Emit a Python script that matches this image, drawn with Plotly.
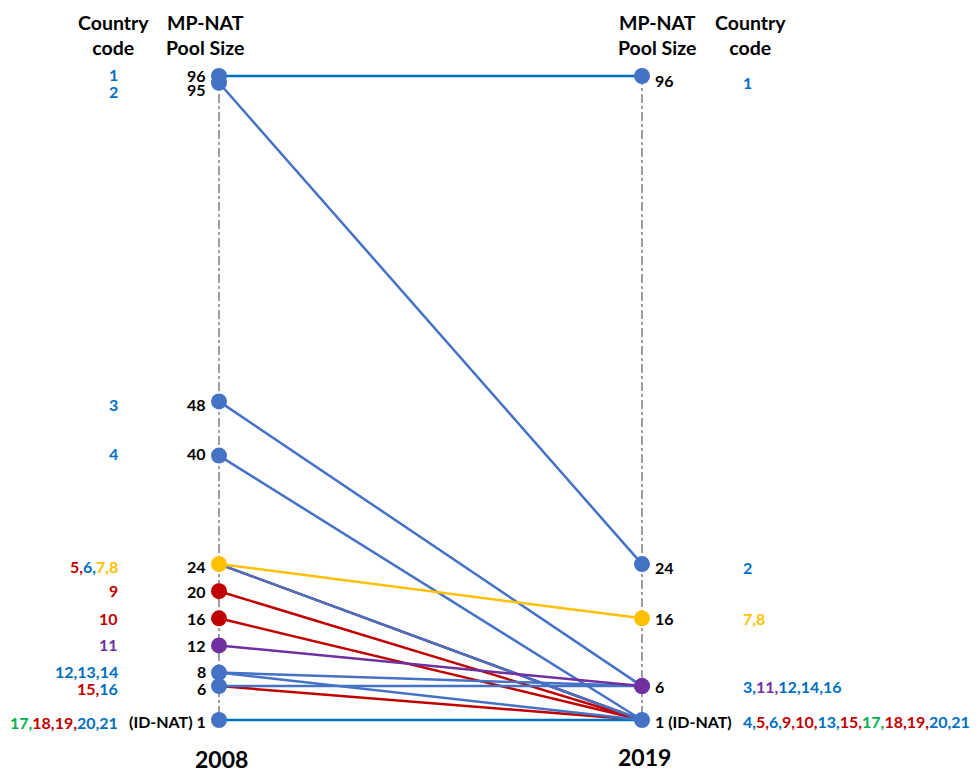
import plotly.graph_objects as go

# ---------------- data ----------------
years = ["2008", "2019"]
country_codes = list(range(1, 22))
pool_2008 = [96, 95, 48, 40, 24, 24, 24, 24, 20, 16, 12, 8, 8, 8, 6, 6, 1, 1, 1, 1, 1]
pool_2019 = [96, 24, 6, 1, 1, 1, 16, 16, 1, 1, 6, 6, 1, 6, 1, 6, 1, 1, 1, 1, 1]
country_group = ["b", "b", "b", "b", "r", "b", "y", "y", "r", "r", "p",
                 "b", "b", "b", "r", "b", "g", "r", "r", "b", "b"]

marker_2008_values = [96, 95, 48, 40, 24, 20, 16, 12, 8, 6, 1]
marker_2008_groups = ["b", "b", "b", "b", "y", "r", "r", "p", "b", "b", "b"]
marker_2019_values = [96, 24, 16, 6, 6, 1]
marker_2019_groups = ["b", "b", "y", "b", "p", "b"]

value_labels_2008 = ["96", "95", "48", "40", "24", "20", "16", "12", "8", "6", "(ID-NAT) 1"]
value_labels_2019 = ["96", "24", "16", "6", "1 (ID-NAT)"]
value_label_pos_2019 = [96, 24, 16, 6, 1]

codes_2008 = [[1], [2], [3], [4], [5, 6, 7, 8], [9], [10], [11], [12, 13, 14], [15, 16],
              [17, 18, 19, 20, 21]]
codes_2019 = [[1], [2], [7, 8], [3, 11, 12, 14, 16],
              [4, 5, 6, 9, 10, 13, 15, 17, 18, 19, 20, 21]]

# ---------------- styles ----------------
LINE_COL = {"b": "#4472C4", "r": "#C00000", "y": "#FFC000", "p": "#7030A0", "g": "#00B050"}
TEXT_COL = {"b": "#0070C0", "r": "#C00000", "y": "#FFC000", "p": "#7030A0", "g": "#00B050"}
FONT = "Lato"

# page body has an 8px margin -> figure is 970x765 placed at (8, 8)
W, H = 970, 765
OFF = 8
X0_PX, X1_PX = 219 - OFF, 642 - OFF
Y96_PX, Y1_PX = 76 - OFF, 720 - OFF
ppu = (Y1_PX - Y96_PX) / 95.0
ppx = X1_PX - X0_PX

fig = go.Figure()

# vertical dash-dot guides
for xi in (0, 1):
    fig.add_trace(go.Scatter(x=[xi, xi], y=[96, 1], mode="lines",
                             line=dict(color="#7F7F7F", width=1.5, dash="dashdot"),
                             hoverinfo="skip", showlegend=False))

# slope lines: red/green first so blue ones sit on top where identical
order = sorted(range(len(country_codes)),
               key=lambda i: {"r": 0, "g": 0, "b": 1, "y": 2, "p": 3}[country_group[i]])
drawn = set()
for i in order:
    g = country_group[i]
    col = LINE_COL[g]
    if pool_2008[i] == pool_2019[i] and pool_2008[i] in (1, 96):
        col = "#0070C0"
    key = (pool_2008[i], pool_2019[i], col)
    if key in drawn:
        continue
    drawn.add(key)
    fig.add_trace(go.Scatter(x=[0, 1], y=[pool_2008[i], pool_2019[i]], mode="lines",
                             line=dict(color=col, width=2.5),
                             hoverinfo="skip", showlegend=False))

# markers
fig.add_trace(go.Scatter(x=[0] * len(marker_2008_values), y=marker_2008_values, mode="markers",
                         marker=dict(size=16, color=[LINE_COL[g] for g in marker_2008_groups]),
                         hoverinfo="skip", showlegend=False))
fig.add_trace(go.Scatter(x=[1] * len(marker_2019_values), y=marker_2019_values, mode="markers",
                         marker=dict(size=16, color=[LINE_COL[g] for g in marker_2019_groups]),
                         hoverinfo="skip", showlegend=False))


def code_html(codes):
    parts = []
    for k, c in enumerate(codes):
        col = TEXT_COL[country_group[c - 1]]
        s = str(c) + ("," if k < len(codes) - 1 else "")
        parts.append(f'<span style="color:{col}">{s}</span>')
    return "<b>" + "".join(parts) + "</b>"


# value labels 2008
yshift_2008 = [1, -7, -3, 2, -2, 0, 0, 0, 1, -2, -1]
for v, lab, ys in zip(marker_2008_values, value_labels_2008, yshift_2008):
    fig.add_annotation(x=0, y=v, text=f"<b>{lab}</b>", showarrow=False, xanchor="right",
                       xshift=-11, yshift=ys,
                       font=dict(family=FONT, size=16, color="#000000"))
# value labels 2019
yshift_2019 = [-4, -3, 0, 0, -1]
for v, lab, ys in zip(value_label_pos_2019, value_labels_2019, yshift_2019):
    fig.add_annotation(x=1, y=v, text=f"<b>{lab}</b>", showarrow=False, xanchor="left",
                       xshift=11, yshift=ys,
                       font=dict(family=FONT, size=16, color="#000000"))

# country codes 2008
code_yshift_2008 = [2, -9, -3, 2, -2, 1, 0, 1, 1, -2, -2]
for v, codes, ys in zip(marker_2008_values, codes_2008, code_yshift_2008):
    fig.add_annotation(x=0, y=v, text=code_html(codes), showarrow=False, xanchor="right",
                       xshift=-99, yshift=ys, font=dict(family=FONT, size=16))
# country codes 2019
code_yshift_2019 = [-6, -3, 0, 0, -1]
for v, codes, ys in zip(value_label_pos_2019, codes_2019, code_yshift_2019):
    fig.add_annotation(x=1, y=v, text=code_html(codes), showarrow=False, xanchor="left",
                       xshift=99, yshift=ys, font=dict(family=FONT, size=16))

# headers
hdr = dict(showarrow=False, xref="x", yref="paper", y=1 - (35 - OFF) / H, yanchor="middle",
           font=dict(family=FONT, size=19.5, color="#000000"), align="center")
fig.add_annotation(x=0, xshift=-106, text="<b>Country<br>code</b>", **hdr)
fig.add_annotation(x=0, xshift=-14, text="<b>MP-NAT<br>Pool Size</b>", **hdr)
fig.add_annotation(x=1, xshift=15, text="<b>MP-NAT<br>Pool Size</b>", **hdr)
fig.add_annotation(x=1, xshift=108, text="<b>Country<br>code</b>", **hdr)

# year labels
for xi, yr, ypix in [(0, years[0], 759), (1, years[1], 757)]:
    fig.add_annotation(x=xi, xshift=2, y=1 - (ypix - OFF) / H, xref="x", yref="paper",
                       text=f"<b>{yr}</b>", showarrow=False, yanchor="middle",
                       font=dict(family=FONT, size=23, color="#000000"))

fig.update_layout(
    width=W, height=H,
    margin=dict(l=0, r=0, t=0, b=0),
    paper_bgcolor="white", plot_bgcolor="white",
    xaxis=dict(range=[-X0_PX / ppx, (W - X0_PX) / ppx], visible=False, fixedrange=True),
    yaxis=dict(range=[1 - (H - Y1_PX) / ppu, 96 + Y96_PX / ppu], visible=False,
               fixedrange=True),
    showlegend=False,
)

fig.write_html("out.html")
